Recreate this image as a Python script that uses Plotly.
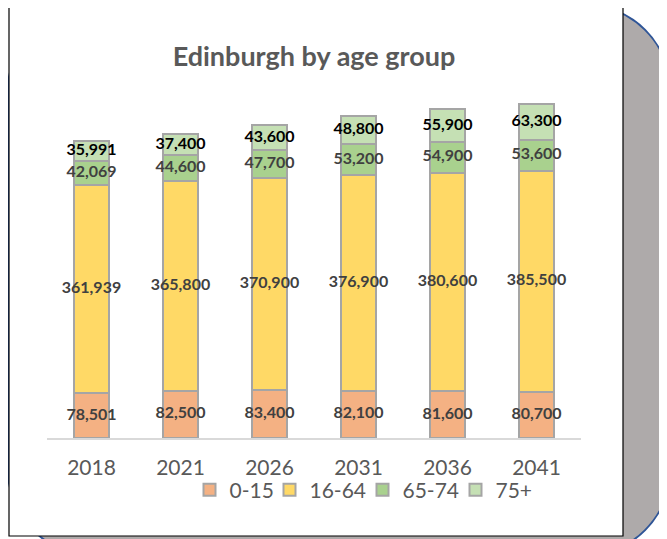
import plotly.graph_objects as go
import numpy as np

years = ["2018", "2021", "2026", "2031", "2036", "2041"]
age_0_15 = [78501, 82500, 83400, 82100, 81600, 80700]
age_16_64 = [361939, 365800, 370900, 376900, 380600, 385500]
age_65_74 = [42069, 44600, 47700, 53200, 54900, 53600]
age_75_plus = [35991, 37400, 43600, 48800, 55900, 63300]
series_names = ["0-15", "16-64", "65-74", "75+"]
series_values = [age_0_15, age_16_64, age_65_74, age_75_plus]
colors = ["#F4B183", "#FFD966", "#A9D18E", "#C5E0B4"]
label_colors = ["#404040", "#404040", "#404040", "#000000"]
legend_widths = [35, 48, 48, 34]

# page body has an 8px margin; work in screen pixels and convert
OFF = 8
W, H = 667 - OFF, 539 - OFF
PLOT_L, PLOT_R, PLOT_T, PLOT_B = 47, 581, 94, 438  # screen px
L = PLOT_L - OFF
R = W - (PLOT_R - OFF)
T = PLOT_T - OFF
B = H - (PLOT_B - OFF)
PW, PH = PLOT_R - PLOT_L, PLOT_B - PLOT_T


def xp(px):
    return (px - PLOT_L) / PW


def yp(py):
    return (PLOT_B - py) / PH


def rounded_rect(x0, y0, x1, y1, r):
    k = 0.5523 * r

    def P(x, y):
        return f"{xp(x):.5f},{yp(y):.5f}"
    return (
        f"M {P(x0 + r, y0)} L {P(x1 - r, y0)} "
        f"C {P(x1 - r + k, y0)} {P(x1, y0 + r - k)} {P(x1, y0 + r)} "
        f"L {P(x1, y1 - r)} "
        f"C {P(x1, y1 - r + k)} {P(x1 - r + k, y1)} {P(x1 - r, y1)} "
        f"L {P(x0 + r, y1)} "
        f"C {P(x0 + r - k, y1)} {P(x0, y1 - r + k)} {P(x0, y1 - r)} "
        f"L {P(x0, y0 + r)} "
        f"C {P(x0, y0 + r - k)} {P(x0 + r - k, y0)} {P(x0 + r, y0)} Z"
    )


fig = go.Figure()

for name, vals, col, lw in zip(series_names, series_values, colors, legend_widths):
    fig.add_trace(go.Bar(
        x=years, y=vals, name=name,
        marker=dict(color=col, line=dict(color="#A5A5A5", width=2)),
        width=0.39, hoverinfo="skip", legendwidth=lw,
    ))

cum = np.cumsum(np.array(series_values), axis=0)
for i, (vals, lc) in enumerate(zip(series_values, label_colors)):
    mids = cum[i] - np.array(vals) / 2
    fig.add_trace(go.Scatter(
        x=years, y=mids, mode="text",
        text=[f"{v:,}" for v in vals],
        textfont=dict(family="Lato", size=16, color=lc, weight="bold"),
        showlegend=False, hoverinfo="skip", cliponaxis=False,
    ))

shapes = [
    dict(type="path", xref="paper", yref="paper", layer="below",
         path=rounded_rect(8, 5, 670, 555, 85),
         fillcolor="#AEAAAA", line=dict(color="#2F5597", width=2)),
    dict(type="rect", xref="paper", yref="paper", layer="below",
         x0=xp(9), x1=xp(623), y0=yp(6), y1=yp(536),
         fillcolor="white", line=dict(color="black", width=1.2)),
]

fig.update_layout(
    width=W, height=H,
    margin=dict(l=L, r=R, t=T, b=B),
    paper_bgcolor="white",
    plot_bgcolor="rgba(0,0,0,0)",
    barmode="stack",
    shapes=shapes,
    title=dict(text="<b>Edinburgh by age group</b>", x=0.5, xref="paper",
               y=1 - (57 - OFF) / H, yref="container", yanchor="middle", xanchor="center",
               font=dict(family="Lato", size=27, color="#595959")),
    xaxis=dict(showline=True, linecolor="#D9D9D9", linewidth=1.5,
               showgrid=False, ticks="", ticklabelstandoff=10,
               tickfont=dict(family="Lato", size=21, color="#595959"),
               fixedrange=True),
    yaxis=dict(range=[0, 600000], visible=False, showgrid=False, fixedrange=True),
    legend=dict(orientation="h", x=xp(362), xanchor="center",
                y=yp(490), yanchor="middle", traceorder="normal",
                font=dict(family="Lato", size=21, color="#595959"),
                bgcolor="rgba(0,0,0,0)", itemclick=False, itemdoubleclick=False),
    showlegend=True,
)

fig.write_html("out.html")
